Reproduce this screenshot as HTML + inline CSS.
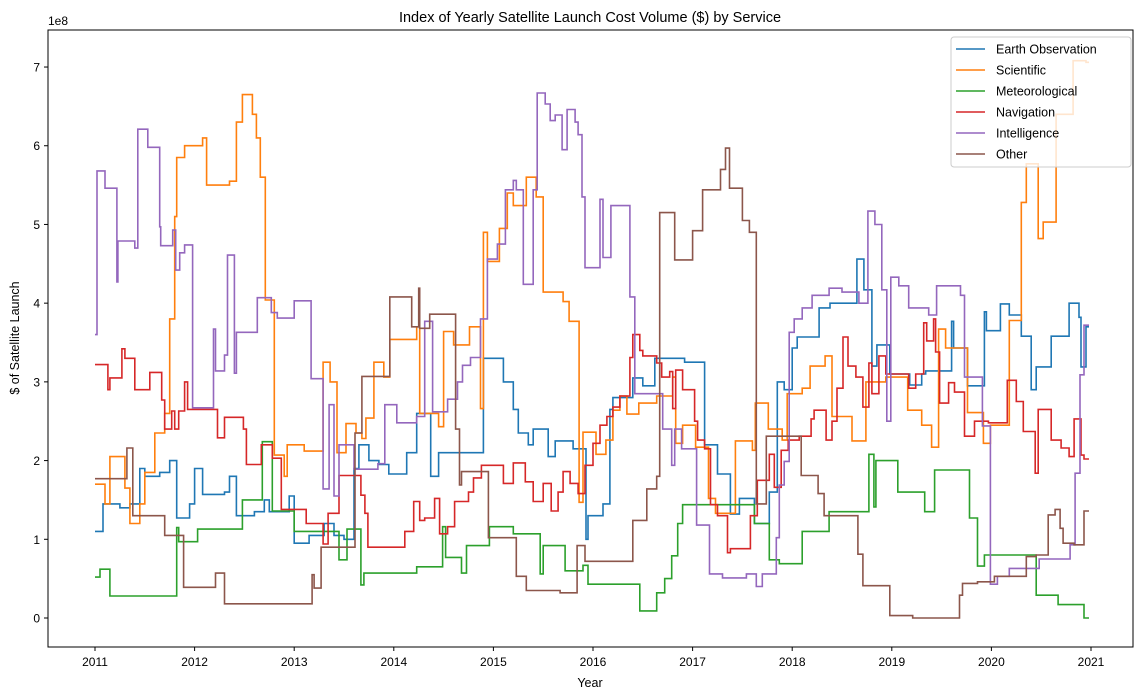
<!DOCTYPE html>
<html><head><meta charset="utf-8"><style>
html,body{margin:0;padding:0;background:#fff;}
svg{display:block;font-family:"Liberation Sans","DejaVu Sans",sans-serif;}
</style></head><body>
<svg id="chart" width="1143" height="699" viewBox="0 0 1143 699" xmlns="http://www.w3.org/2000/svg">
<rect x="0" y="0" width="1143" height="699" fill="#fff"/>
<text x="590" y="22" text-anchor="middle" font-size="14.5" fill="#000">Index of Yearly Satellite Launch Cost Volume ($) by Service</text>
<text x="590" y="687" text-anchor="middle" font-size="12.5" fill="#000">Year</text>
<text transform="translate(19,338) rotate(-90)" text-anchor="middle" font-size="12.5" fill="#000">$ of Satellite Launch</text>
<text x="48" y="25" font-size="12" fill="#000">1e8</text>
<g id="grid"></g>
<g id="series" clip-path="url(#clip)"></g>
<defs><clipPath id="clip"><rect x="48" y="30" width="1085" height="617"/></clipPath></defs>
<rect x="48" y="30" width="1085" height="617" fill="none" stroke="#000" stroke-width="1"/>
<g id="legend"></g>
</svg>
<script>
const seriesNames = ["Earth Observation","Scientific","Meteorological","Navigation","Intelligence","Other"];
const seriesColors = ["#1f77b4","#ff7f0e","#2ca02c","#d62728","#9467bd","#8c564b"];
const yTicks = [0,1,2,3,4,5,6,7];
const xTicks = [2011,2012,2013,2014,2015,2016,2017,2018,2019,2020,2021];
const endYear = 2020.98;
const earthObs = [[2011.0,1.10],[2011.08,1.45],[2011.25,1.40],[2011.35,1.45],[2011.45,1.90],[2011.5,1.80],[2011.65,1.85],[2011.75,2.0],[2011.82,1.27],[2011.95,1.45],[2012.0,1.9],[2012.08,1.57],[2012.3,1.6],[2012.35,1.8],[2012.42,1.3],[2012.6,1.35],[2012.7,1.5],[2012.75,1.35],[2012.95,1.55],[2013.0,0.95],[2013.15,1.05],[2013.3,1.2],[2013.4,1.05],[2013.5,1.0],[2013.6,1.9],[2013.65,2.2],[2013.75,2.0],[2013.85,1.95],[2013.95,1.83],[2014.13,2.1],[2014.23,2.6],[2014.37,1.8],[2014.45,2.1],[2014.9,3.3],[2015.1,3.0],[2015.2,2.65],[2015.25,2.35],[2015.35,2.2],[2015.4,2.4],[2015.55,2.05],[2015.62,2.25],[2015.8,2.15],[2015.93,1.0],[2015.95,1.3],[2016.1,1.45],[2016.17,2.65],[2016.2,2.8],[2016.4,3.05],[2016.5,2.95],[2016.62,3.3],[2016.92,3.25],[2017.12,2.2],[2017.25,1.83],[2017.38,1.32],[2017.47,1.52],[2017.62,1.2],[2017.77,1.6],[2017.85,3.0],[2017.92,2.9],[2018.0,3.43],[2018.05,3.57],[2018.27,3.94],[2018.38,4.0],[2018.65,4.56],[2018.72,4.17],[2018.8,3.2],[2018.85,3.47],[2018.98,3.1],[2019.18,2.96],[2019.3,3.1],[2019.34,3.14],[2019.6,3.77],[2019.62,3.43],[2019.76,2.95],[2019.93,3.89],[2019.95,3.65],[2020.09,3.99],[2020.18,3.85],[2020.3,3.58],[2020.4,2.9],[2020.45,3.19],[2020.6,3.58],[2020.78,4.0],[2020.88,3.82],[2020.9,3.19],[2020.95,3.7]];
const scientific = [[2011.0,1.7],[2011.1,1.45],[2011.15,2.05],[2011.3,1.65],[2011.35,1.2],[2011.45,1.45],[2011.5,1.85],[2011.6,2.35],[2011.7,2.6],[2011.75,3.8],[2011.8,5.1],[2011.82,5.85],[2011.9,6.0],[2012.08,6.1],[2012.12,5.5],[2012.35,5.55],[2012.42,6.3],[2012.48,6.65],[2012.58,6.4],[2012.62,6.1],[2012.66,5.6],[2012.71,4.04],[2012.8,2.07],[2012.9,1.8],[2012.93,2.2],[2013.1,2.12],[2013.29,3.25],[2013.36,3.0],[2013.43,2.1],[2013.52,2.47],[2013.62,2.35],[2013.68,2.28],[2013.72,2.54],[2013.8,3.25],[2013.9,3.06],[2013.96,3.54],[2014.23,3.7],[2014.26,2.6],[2014.45,2.43],[2014.5,3.64],[2014.6,3.47],[2014.76,3.7],[2014.87,2.66],[2014.9,4.9],[2014.94,4.53],[2015.06,4.95],[2015.14,5.4],[2015.2,5.24],[2015.33,5.6],[2015.43,5.35],[2015.5,4.14],[2015.7,4.02],[2015.76,3.77],[2015.86,1.47],[2015.9,2.36],[2016.03,2.08],[2016.13,2.26],[2016.2,2.64],[2016.27,2.82],[2016.34,2.59],[2016.46,2.73],[2016.64,2.82],[2016.8,3.06],[2016.83,2.22],[2016.9,2.45],[2017.03,2.17],[2017.16,1.52],[2017.23,1.33],[2017.43,2.25],[2017.6,2.13],[2017.63,2.73],[2017.76,2.4],[2017.9,2.26],[2017.95,2.85],[2018.1,2.92],[2018.18,3.2],[2018.33,3.33],[2018.4,2.56],[2018.6,2.25],[2018.74,3.0],[2018.94,3.06],[2019.16,2.64],[2019.3,2.45],[2019.4,2.17],[2019.47,3.67],[2019.54,3.43],[2019.76,2.61],[2019.92,2.22],[2019.99,2.45],[2020.18,3.78],[2020.3,5.28],[2020.35,5.77],[2020.47,4.82],[2020.52,5.03],[2020.65,6.4],[2020.82,7.08],[2020.95,7.06]];
const meteorological = [[2011.0,0.52],[2011.05,0.62],[2011.15,0.28],[2011.82,1.15],[2011.84,0.97],[2012.03,1.13],[2012.48,1.5],[2012.68,2.24],[2012.78,1.36],[2013.0,1.1],[2013.45,0.74],[2013.53,1.13],[2013.67,0.42],[2013.7,0.57],[2014.23,0.65],[2014.49,1.16],[2014.52,0.77],[2014.68,0.57],[2014.73,0.92],[2014.96,1.16],[2015.2,1.07],[2015.47,0.56],[2015.5,0.92],[2015.72,0.6],[2015.9,0.67],[2015.95,0.43],[2016.47,0.09],[2016.64,0.32],[2016.72,0.5],[2016.79,0.79],[2016.85,1.2],[2016.9,1.44],[2017.62,1.2],[2017.77,0.74],[2017.87,0.69],[2018.1,1.1],[2018.37,1.35],[2018.77,2.08],[2018.82,1.41],[2018.84,2.0],[2019.06,1.6],[2019.33,1.35],[2019.43,1.88],[2019.78,1.27],[2019.86,0.66],[2019.93,0.8],[2020.45,0.29],[2020.67,0.17],[2020.93,0.0]];
const navigation = [[2011.0,3.22],[2011.13,2.9],[2011.15,3.05],[2011.27,3.42],[2011.3,3.3],[2011.4,2.9],[2011.55,3.12],[2011.67,2.77],[2011.7,2.4],[2011.77,2.63],[2011.8,2.4],[2011.84,2.63],[2011.9,3.0],[2011.93,2.65],[2012.23,2.29],[2012.3,2.55],[2012.49,2.4],[2012.52,1.95],[2012.67,2.2],[2012.78,2.03],[2012.87,1.38],[2013.12,1.2],[2013.29,0.94],[2013.34,1.33],[2013.45,1.81],[2013.67,1.56],[2013.71,1.33],[2013.74,0.9],[2014.11,1.1],[2014.2,1.48],[2014.26,1.24],[2014.31,1.27],[2014.41,1.52],[2014.46,1.07],[2014.54,1.16],[2014.61,1.48],[2014.75,1.6],[2014.8,1.78],[2014.88,1.94],[2015.1,1.71],[2015.2,1.97],[2015.32,1.73],[2015.4,1.48],[2015.5,1.71],[2015.58,1.36],[2015.65,1.6],[2015.7,1.86],[2015.77,1.71],[2015.85,1.58],[2015.92,1.94],[2016.0,2.22],[2016.07,2.45],[2016.14,2.56],[2016.2,2.68],[2016.27,2.82],[2016.37,3.31],[2016.4,3.6],[2016.47,3.4],[2016.5,3.33],[2016.64,3.24],[2016.69,3.06],[2016.77,3.13],[2016.8,2.66],[2016.83,3.15],[2016.9,2.9],[2017.02,2.5],[2017.05,2.26],[2017.12,2.15],[2017.18,1.44],[2017.25,1.3],[2017.35,0.83],[2017.38,0.88],[2017.58,1.3],[2017.65,1.75],[2017.77,2.08],[2017.82,1.66],[2017.89,2.13],[2017.96,2.26],[2018.07,2.31],[2018.19,2.53],[2018.22,2.64],[2018.34,2.26],[2018.4,2.5],[2018.45,2.92],[2018.51,3.57],[2018.56,3.2],[2018.64,3.06],[2018.71,2.68],[2018.77,3.24],[2018.8,2.85],[2018.87,3.33],[2018.94,3.1],[2019.17,2.92],[2019.24,3.1],[2019.32,3.75],[2019.35,3.52],[2019.42,3.8],[2019.44,3.38],[2019.48,2.73],[2019.57,2.99],[2019.63,2.87],[2019.73,2.31],[2019.83,2.5],[2019.97,2.48],[2020.16,3.02],[2020.25,2.75],[2020.32,2.37],[2020.44,1.84],[2020.47,2.65],[2020.6,2.26],[2020.7,2.16],[2020.78,2.05],[2020.83,2.53],[2020.9,2.07],[2020.93,2.02]];
const intelligence = [[2011.0,3.6],[2011.02,5.68],[2011.1,5.46],[2011.22,4.27],[2011.23,4.79],[2011.4,4.7],[2011.43,6.21],[2011.53,5.98],[2011.65,4.97],[2011.66,4.73],[2011.78,4.93],[2011.81,4.42],[2011.85,4.64],[2011.9,4.74],[2011.98,2.67],[2012.19,3.67],[2012.21,3.14],[2012.3,3.34],[2012.33,4.61],[2012.4,3.11],[2012.42,3.63],[2012.63,4.07],[2012.77,3.88],[2012.83,3.81],[2013.0,4.03],[2013.17,3.04],[2013.29,1.64],[2013.35,2.71],[2013.4,1.55],[2013.45,2.2],[2013.6,1.89],[2013.84,1.96],[2013.91,2.71],[2014.03,2.48],[2014.23,2.56],[2014.31,3.77],[2014.39,2.62],[2014.54,2.78],[2014.64,3.0],[2014.69,3.21],[2014.77,3.31],[2014.87,3.8],[2014.94,4.56],[2015.04,4.75],[2015.12,5.44],[2015.2,5.56],[2015.23,5.44],[2015.3,4.24],[2015.4,5.44],[2015.44,6.67],[2015.52,6.53],[2015.57,6.32],[2015.62,6.39],[2015.69,5.95],[2015.74,6.46],[2015.82,6.3],[2015.85,6.14],[2015.89,5.35],[2015.92,4.45],[2016.07,5.32],[2016.1,4.58],[2016.18,5.24],[2016.37,4.08],[2016.42,2.85],[2016.7,2.4],[2016.79,1.94],[2016.82,2.4],[2016.89,2.15],[2017.04,1.18],[2017.17,0.56],[2017.3,0.51],[2017.54,0.56],[2017.64,0.4],[2017.7,0.56],[2017.84,1.02],[2017.87,1.69],[2017.92,1.99],[2017.97,3.63],[2018.02,3.8],[2018.1,3.94],[2018.2,4.1],[2018.37,4.19],[2018.5,4.14],[2018.67,4.0],[2018.76,5.17],[2018.83,5.0],[2018.9,4.17],[2018.95,2.5],[2018.99,4.33],[2019.07,4.22],[2019.17,3.94],[2019.37,3.85],[2019.45,4.22],[2019.69,4.1],[2019.73,3.06],[2019.91,2.44],[2019.99,0.43],[2020.06,0.53],[2020.18,0.63],[2020.48,0.75],[2020.79,0.93],[2020.84,1.84],[2020.89,3.09],[2020.93,3.72]];
const other = [[2011.0,1.77],[2011.32,2.16],[2011.38,1.3],[2011.7,1.05],[2011.89,0.39],[2012.21,0.57],[2012.3,0.18],[2013.18,0.55],[2013.2,0.38],[2013.27,0.9],[2013.61,2.35],[2013.68,3.07],[2013.96,4.08],[2014.18,3.7],[2014.25,4.19],[2014.26,3.68],[2014.36,3.86],[2014.62,2.4],[2014.66,1.69],[2014.68,1.86],[2014.95,1.02],[2015.23,0.53],[2015.33,0.35],[2015.67,0.32],[2015.84,0.92],[2015.92,0.72],[2016.4,1.24],[2016.54,1.64],[2016.64,1.8],[2016.67,5.15],[2016.82,4.55],[2017.0,4.92],[2017.1,5.44],[2017.28,5.7],[2017.33,5.97],[2017.37,5.46],[2017.5,5.05],[2017.57,4.9],[2017.64,1.45],[2017.74,2.31],[2018.09,1.81],[2018.26,1.58],[2018.32,1.3],[2018.66,0.81],[2018.71,0.41],[2018.98,0.03],[2019.21,0.0],[2019.68,0.29],[2019.71,0.44],[2019.86,0.46],[2020.03,0.53],[2020.35,0.78],[2020.45,0.8],[2020.57,1.31],[2020.64,1.38],[2020.69,1.14],[2020.72,0.95],[2020.83,0.93],[2020.93,1.36]];
const allSeries = [earthObs, scientific, meteorological, navigation, intelligence, other];

const NS = "http://www.w3.org/2000/svg";
function xScale(yr){ return 95 + (yr - 2011) * 99.6; }
function yScale(v){ return 618 - v * 78.71; }
function mk(tag, attrs, parent){ const e = document.createElementNS(NS, tag); for (const k in attrs) e.setAttribute(k, attrs[k]); parent.appendChild(e); return e; }

const grid = document.getElementById('grid');
yTicks.forEach(t => {
  const y = yScale(t);
  const tk = mk('line', {x1:44, x2:48, y1:y, y2:y, stroke:'#000', 'stroke-width':1}, grid);
  
  
  const lb = mk('text', {x:40, y:y+4.5, 'text-anchor':'end', 'font-size':12, fill:'#000'}, grid);
  lb.textContent = String(t);
  
  
});
xTicks.forEach(t => {
  const x = xScale(t);
  const tk = mk('line', {x1:x, x2:x, y1:647, y2:651, stroke:'#000', 'stroke-width':1}, grid);
  
  
  const lb = mk('text', {x:x, y:666, 'text-anchor':'middle', 'font-size':12, fill:'#000'}, grid);
  lb.textContent = String(t);
  
  
});

const sg = document.getElementById('series');
allSeries.forEach((pts, i) => {
  let d = 'M' + xScale(pts[0][0]).toFixed(1) + ',' + yScale(pts[0][1]).toFixed(1);
  for (let k = 1; k < pts.length; k++) {
    d += 'H' + xScale(pts[k][0]).toFixed(1) + 'V' + yScale(pts[k][1]).toFixed(1);
  }
  d += 'H' + xScale(endYear).toFixed(1);
  const p = mk('path', {d:d, fill:'none', stroke:seriesColors[i], 'stroke-width':1.6, 'stroke-linejoin':'miter'}, sg);
  
  
});

const lg = document.getElementById('legend');
const box = mk('rect', {x:951, y:37, width:180, height:130, rx:3, fill:'#fff', 'fill-opacity':0.8, stroke:'#ccc', 'stroke-width':1}, lg);


seriesNames.forEach((n, i) => {
  const y = 49 + i * 21;
  const ln = mk('line', {x1:956, x2:985, y1:y, y2:y, stroke:seriesColors[i], 'stroke-width':1.6}, lg);
  
  
  const tx = mk('text', {x:996, y:y+4.5, 'font-size':12.5, fill:'#000'}, lg);
  tx.textContent = n;
  
  
});
</script>
</body></html>
